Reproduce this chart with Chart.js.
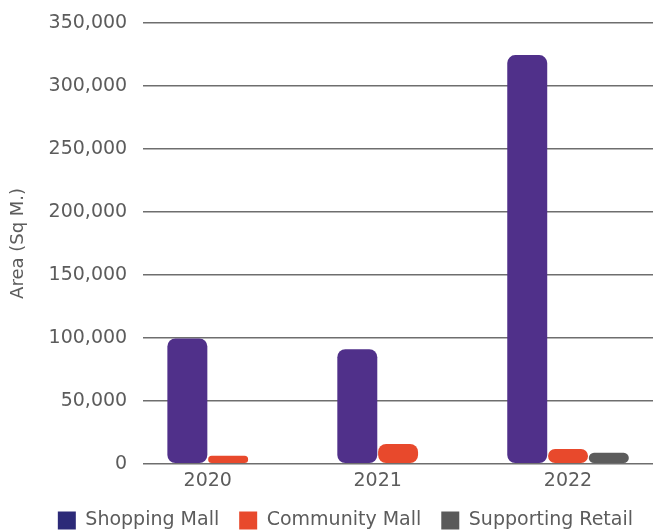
<!DOCTYPE html>
<html lang="en">
    <head>
        <meta charset="UTF-8">
        <title>Retail Area</title>
        <script src="https://cdn.jsdelivr.net/npm/chart.js"></script>
        <style>
            html, body { margin: 0; padding: 0; background: #fff; }
            .chart-container { position: relative; width: 656px; height: 532px; }
        </style>
    </head>
<body>
    <div class="chart-container">
        <canvas id="areaChart"></canvas>
    </div>
    <script>
        // Retail space (sq m.) by year
        const years = ['2020', '2021', '2022'];
        const shoppingMall = [99500, 91000, 324500];
        const communityMall = [6300, 15800, 11800];
        const supportingRetail = [null, null, 8800];

        const seriesNames = ['Shopping Mall', 'Community Mall', 'Supporting Retail'];
        const barColors = ['#50308a', '#e8492c', '#5c5c5c'];
        const swatchColors = ['#2c2a78', '#e8492c', '#5a5a5a'];

        const textColor = '#5c5c5c';
        const fontFamily = '"DejaVu Sans", sans-serif';

        // year labels sit under the bars that are actually drawn in each group
        const yearLabels = {
            id: 'yearLabels',
            afterDraw(chart) {
                const { ctx, scales: { x } } = chart;
                ctx.save();
                ctx.font = '19px ' + fontFamily;
                ctx.fillStyle = textColor;
                ctx.textAlign = 'center';
                ctx.textBaseline = 'top';
                years.forEach((yr, i) => {
                    const bars = chart.data.datasets
                        .map((ds, d) => ds.data[i] == null ? null : chart.getDatasetMeta(d).data[i])
                        .filter(Boolean);
                    const left = Math.min(...bars.map(b => b.x - b.width / 2));
                    const right = Math.max(...bars.map(b => b.x + b.width / 2));
                    ctx.fillText(yr, (left + right) / 2, x.top + 8);
                });
                ctx.restore();
            }
        };

        const ctx = document.getElementById('areaChart').getContext('2d');
        const config = {
            type: 'bar',
            data: {
                labels: years,
                datasets: [shoppingMall, communityMall, supportingRetail].map((values, i) => ({
                    label: seriesNames[i],
                    data: values,
                    backgroundColor: barColors[i],
                    borderRadius: 8,
                    borderSkipped: false,
                    categoryPercentage: 0.72,
                    barPercentage: 0.98
                }))
            },
            options: {
                responsive: true,
                maintainAspectRatio: false,
                animation: false,
                layout: { padding: { top: 0, right: 3, left: 8, bottom: -8 } },
                scales: {
                    x: {
                        grid: { display: false },
                        border: { display: false },
                        ticks: {
                            color: 'transparent',
                            padding: 3,
                            font: { family: fontFamily, size: 11 }
                        }
                    },
                    y: {
                        min: 0,
                        max: 350000,
                        border: { display: false },
                        grid: {
                            color: '#6e6e6e',
                            lineWidth: 1.5,
                            drawTicks: false
                        },
                        ticks: {
                            stepSize: 50000,
                            padding: 16,
                            color: textColor,
                            font: { family: fontFamily, size: 19 },
                            callback: v => v.toLocaleString('en-US')
                        },
                        // keep the plot close to the top edge and the year row
                        afterFit(scale) {
                            scale.paddingTop = 23;
                            scale.paddingBottom = 0;
                        },
                        title: {
                            display: true,
                            text: 'Area (Sq M.)',
                            color: textColor,
                            font: { family: fontFamily, size: 18 },
                            padding: { top: 0, bottom: 3 }
                        }
                    }
                },
                plugins: {
                    tooltip: { enabled: false },
                    legend: {
                        position: 'bottom',
                        align: 'end',
                        labels: {
                            color: textColor,
                            boxWidth: 18,
                            boxHeight: 18,
                            padding: 20,
                            font: { family: fontFamily, size: 19 },
                            generateLabels(chart) {
                                const items = Chart.defaults.plugins.legend.labels.generateLabels(chart);
                                return items.map((item, i) => Object.assign(item, {
                                    fillStyle: swatchColors[i],
                                    strokeStyle: swatchColors[i],
                                    lineWidth: 0,
                                    borderRadius: 0
                                }));
                            }
                        }
                    }
                }
            },
            plugins: [yearLabels]
        };

        const areaChart = new Chart(ctx, config);
    </script>
</body>
</html>
